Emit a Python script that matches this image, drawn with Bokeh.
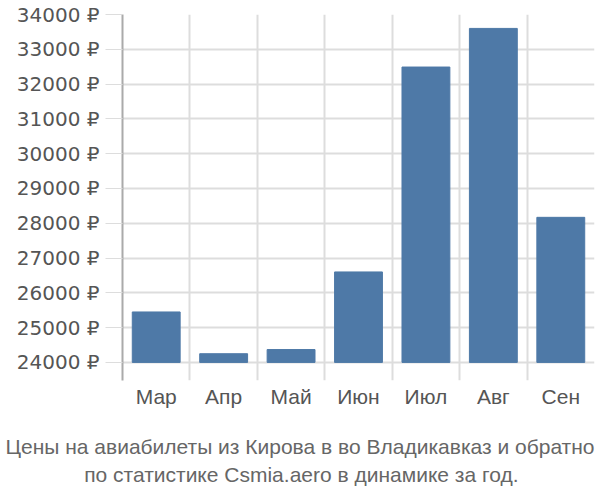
from bokeh.plotting import figure
from bokeh.models import Range1d, FixedTicker, Title
from bokeh.embed import file_html
from bokeh.resources import INLINE

months = ["Мар", "Апр", "Май", "Июн", "Июл", "Авг", "Сен"]
prices = [25450, 24250, 24370, 26600, 32490, 33600, 28170]
y_ticks = list(range(24000, 34001, 1000))
title_lines = ["Цены на авиабилеты из Кирова в во Владикавказ и обратно",
               "по статистике Csmia.aero в динамике за год."]

FONT = "Liberation Sans"
x = [i + 0.5 for i in range(len(months))]

p = figure(width=600, height=500, output_backend="svg", toolbar_location=None,
           x_range=Range1d(0, len(months)), y_range=Range1d(23480, 34000),
           min_border_left=122, min_border_right=6, min_border_top=14,
           min_border_bottom=120)
p.outline_line_color = None

p.vbar(x=x, top=prices, bottom=24000, width=0.71,
       fill_color="#4e79a7", line_color="#4e79a7")

p.yaxis.ticker = FixedTicker(ticks=y_ticks)
p.yaxis.major_label_overrides = {v: f"{v} ₽" for v in y_ticks}
p.yaxis.axis_line_color = "#aaaaaa"
p.yaxis.axis_line_width = 2
p.yaxis.major_tick_out = 17
p.yaxis.major_tick_in = 0
p.yaxis.major_tick_line_color = "#dddddd"
p.yaxis.minor_tick_line_color = None
p.yaxis.major_label_text_font = "DejaVu Sans"
p.yaxis.major_label_text_font_size = "20px"
p.yaxis.major_label_text_color = "#555555"
p.yaxis.major_label_standoff = 6

p.xaxis.ticker = FixedTicker(ticks=x)
p.xaxis.major_label_overrides = {v: m for v, m in zip(x, months)}
p.xaxis.axis_line_color = None
p.xaxis.major_tick_line_color = None
p.xaxis.minor_tick_line_color = None
p.xaxis.major_label_text_font = FONT
p.xaxis.major_label_text_font_size = "21px"
p.xaxis.major_label_text_color = "#555555"
p.xaxis.major_label_standoff = -2

p.xgrid.ticker = FixedTicker(ticks=list(range(len(months) + 1)))
p.xgrid.grid_line_color = "#dddddd"
p.xgrid.grid_line_width = 2
p.ygrid.ticker = FixedTicker(ticks=y_ticks)
p.ygrid.grid_line_color = "#dddddd"
p.ygrid.grid_line_width = 2

# spacer between the axis and the caption
p.add_layout(Title(text=" ", text_font_size="12px", standoff=5), "below")

for t, so, off in zip(title_lines, [2, 4], [0, 76]):
    p.add_layout(Title(text=t, align="right", offset=off,
                       text_font=FONT, text_font_size="21px",
                       text_font_style="normal", text_color="#666666",
                       standoff=so), "below")

open("out.html", "w").write(file_html(p, INLINE))
